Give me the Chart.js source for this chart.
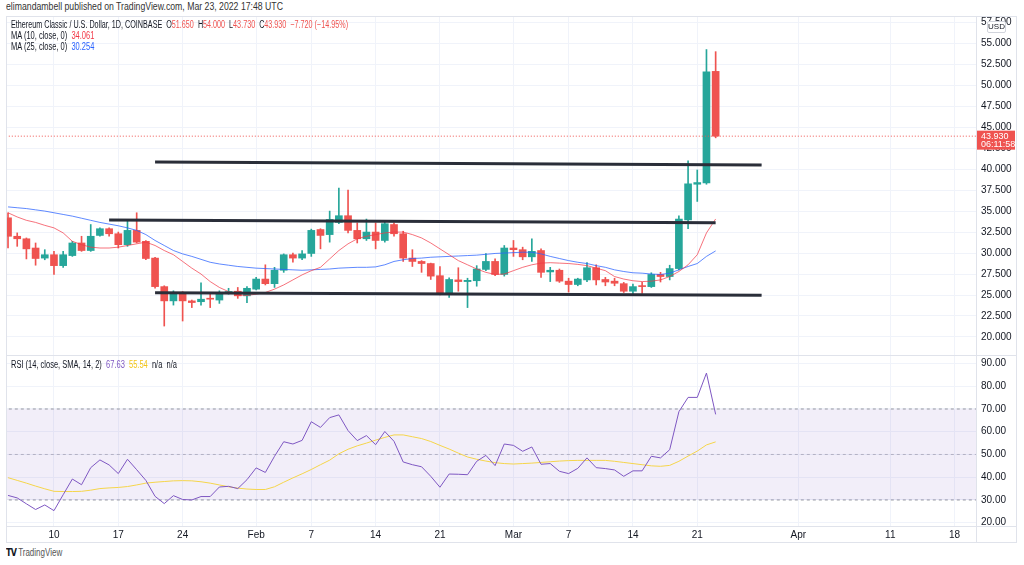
<!DOCTYPE html>
<html><head><meta charset="utf-8">
<script src="https://cdn.jsdelivr.net/npm/chart.js@4.4.1/dist/chart.umd.min.js"></script>
<style>
html,body{margin:0;padding:0;background:#fff;width:1024px;height:565px;overflow:hidden;}
.abs{position:absolute;}
.t{position:absolute;white-space:nowrap;transform-origin:0 50%;font-family:'Liberation Sans',Arial,sans-serif;color:#131722;}
.ln{position:absolute;background:#e0e3eb;}
</style></head><body>
<div class="t" style="left:6px;top:1px;font-size:10px;line-height:12px;color:#333;transform:scaleX(0.87)">elimandambell published on TradingView.com, Mar 23, 2022 17:48 UTC</div>

<div class="abs" style="left:6px;top:16px;width:1011px;height:339px;"><canvas id="priceCv"></canvas></div>
<div class="abs" style="left:6px;top:355px;width:1011px;height:188px;"><canvas id="rsiCv"></canvas></div>

<div class="ln" style="left:6px;top:16px;width:1011px;height:1px"></div>
<div class="ln" style="left:6px;top:542px;width:1011px;height:1px"></div>
<div class="ln" style="left:6px;top:16px;width:1px;height:527px"></div>
<div class="ln" style="left:1016px;top:16px;width:1px;height:527px"></div>
<div class="ln" style="left:976px;top:16px;width:1px;height:527px"></div>
<div class="ln" style="left:6px;top:355px;width:1011px;height:1px"></div>
<div class="ln" style="left:6px;top:526px;width:1011px;height:1px"></div>

<div class="t" style="left:11px;top:19px;font-size:10px;line-height:12px;transform:scaleX(0.72)">Ethereum Classic / U.S. Dollar, 1D, COINBASE&nbsp;&nbsp;O<span style="color:#ef5350">51.650</span>&nbsp;&nbsp;H<span style="color:#ef5350">54.000</span>&nbsp;&nbsp;L<span style="color:#ef5350">43.730</span>&nbsp;&nbsp;C<span style="color:#ef5350">43.930</span>&nbsp;&nbsp;<span style="color:#ef5350">−7.720 (−14.95%)</span></div>
<div class="t" style="left:11px;top:30px;font-size:10px;line-height:12px;transform:scaleX(0.75)">MA (10, close, 0)&nbsp;&nbsp;<span style="color:#f23645">34.061</span></div>
<div class="t" style="left:11px;top:41px;font-size:10px;line-height:12px;transform:scaleX(0.75)">MA (25, close, 0)&nbsp;&nbsp;<span style="color:#2962ff">30.254</span></div>
<div class="t" style="left:11px;top:359px;font-size:10px;line-height:12px;transform:scaleX(0.75)">RSI (14, close, SMA, 14, 2)&nbsp;&nbsp;<span style="color:#7e57c2">67.63</span>&nbsp;&nbsp;<span style="color:#f2c518">55.54</span>&nbsp;&nbsp;n/a&nbsp;&nbsp;n/a</div>
<div class="abs" style="left:987px;top:21px;width:17px;height:10px;border:1px solid #d1d4dc;border-radius:2px;background:#fff;font:8px 'Liberation Sans',Arial,sans-serif;line-height:10px;text-align:center;color:#131722">USD</div>
<div class="t" style="left:6px;top:547px;font-size:10px;line-height:12px;color:#131722;transform:scaleX(0.8)"><b style="font-family:'DejaVu Sans';letter-spacing:-1px">TV</b> <span style="color:#555">TradingView</span></div>

<script>
// ---- data (day index 0 = 2022-01-05) ----
const open  = [34.2,32.0,31.7,30.6,29.4,29.8,28.5,29.7,31.2,30.3, 32.1,32.9,32.3,31.0,32.7,31.4,29.4,26.0,24.3,25.3, 24.3,24.2,24.6,24.4,25.3,25.45,24.9,25.7,26.9,26.35, 27.95,29.8,29.4,29.95,32.8,32.2,33.65,34.45,32.7,31.7, 32.5,31.5,33.4,32.3,29.4,29.0,28.75,27.3,25.1,26.8, 26.6,26.7,28.05,29.0,27.45,30.6,30.4,29.55,30.3,27.75, 27.95,26.65,26.25,26.8,28.25,26.85,26.65,26.35,25.45,26.05, 26.0,27.45,27.2,28.15,33.95,38.2,38.35,51.65];
const high  = [34.8,32.4,31.8,31.2,30.4,30.2,30.2,31.4,32.0,33.4, 33.0,33.0,32.5,34.0,34.8,31.5,29.5,26.1,25.5,25.4, 24.4,26.45,25.1,25.5,25.8,25.9,26.0,27.1,28.6,28.3, 29.9,30.0,30.3,32.85,32.9,35.0,37.75,37.5,33.6,34.05, 33.6,33.7,33.6,32.6,30.4,29.1,28.8,28.4,27.05,28.25, 27.0,28.5,29.95,29.3,30.9,31.5,30.7,31.7,30.5,28.3, 28.1,27.0,27.0,28.85,28.6,27.1,27.0,26.5,26.3,26.5, 27.65,27.7,28.55,34.45,41.0,39.9,54.25,54.0];
const low   = [30.6,30.8,29.3,28.55,29.2,27.45,28.3,29.6,30.2,30.2, 32.0,32.0,30.6,30.8,31.2,29.2,25.8,21.3,23.8,21.9, 23.5,23.8,23.5,24.0,25.1,24.6,24.1,25.6,26.2,25.9, 27.7,28.9,29.2,29.6,30.5,31.3,33.5,32.4,31.2,31.5, 30.5,31.3,32.0,29.0,28.4,27.7,26.85,25.0,24.7,25.45, 23.5,26.05,27.9,27.3,27.25,29.6,29.2,29.0,27.1,26.6, 26.5,25.35,26.1,26.6,26.2,26.1,26.1,25.3,25.1,25.2, 25.9,26.55,26.8,28.0,32.9,36.15,38.2,43.73];
const close = [32.0,31.7,30.5,29.35,29.8,28.5,29.8,31.2,30.3,32.0, 32.9,32.3,31.0,32.7,31.3,29.35,26.0,24.3,25.3,24.3, 24.1,24.5,24.5,25.3,25.4,24.9,25.8,26.9,26.35,27.95, 29.8,29.4,29.9,32.7,32.1,34.0,34.45,32.7,31.7,32.5, 31.5,33.5,32.3,29.4,29.0,28.75,27.25,25.1,26.85,26.6, 26.75,28.1,29.0,27.45,30.6,30.4,29.55,30.2,27.7,27.95, 26.65,26.25,26.9,28.25,26.8,26.55,26.4,25.45,26.0,26.0, 27.45,27.2,28.15,34.05,38.25,38.4,51.6,43.93];
const ma10  = [34.8,34.3,33.9,33.65,33.3,33.0,32.4,31.4,31.0,30.7, 30.6,30.6,30.7,30.9,31.1,31.3,30.9,30.3,29.8,29.0, 28.2,27.5,26.6,25.9,25.4,25.0,24.95,25.1,25.3,25.7, 26.2,26.8,27.4,27.9,28.3,29.3,30.3,31.1,31.7,32.0, 32.2,32.4,32.5,32.5,32.2,31.8,31.2,30.5,29.8,29.1, 28.6,28.1,27.7,27.45,27.5,27.9,28.3,28.6,28.8,28.85, 28.8,28.75,28.65,28.5,28.2,27.9,27.2,26.9,26.7,26.6, 26.65,26.8,27.2,27.8,28.6,29.8,32.4,34.061];
const ma25  = [35.5,35.4,35.3,35.15,35.0,34.8,34.6,34.4,34.15,33.9, 33.65,33.45,33.25,33.0,32.7,32.2,31.5,30.9,30.3,29.9, 29.6,29.25,28.9,28.7,28.55,28.4,28.3,28.2,28.15,28.1, 28.05,28.0,27.95,28.0,28.05,28.1,28.2,28.25,28.3,28.3, 28.35,28.6,29.0,29.2,29.35,29.4,29.5,29.55,29.6,29.65, 29.7,29.75,29.85,29.95,30.0,30.05,30.1,30.1,29.9,29.6, 29.35,29.1,28.9,28.75,28.5,28.3,28.0,27.8,27.65,27.6, 27.5,27.45,27.6,28.0,28.4,28.75,29.6,30.254];
const rsi   = [32.0,30.9,28.3,25.8,27.8,25.3,32.3,39.2,36.7,44.2, 47.6,45.4,41.6,47.9,43.3,38.6,31.6,28.4,31.9,30.2, 30.0,31.5,31.5,35.7,36.0,35.0,38.9,44.1,42.1,49.2, 55.6,54.6,56.2,64.4,61.9,66.2,67.4,60.5,56.1,58.3, 54.3,60.1,55.8,46.7,45.5,44.6,40.4,35.6,41.4,41.3, 41.1,47.0,49.6,45.1,54.6,54.0,51.4,53.3,45.7,46.0, 42.6,41.6,43.9,48.5,44.2,43.8,43.2,40.4,42.8,42.8, 49.2,48.5,52.1,68.8,75.1,75.1,85.8,67.63];
const rsiMa = [39.8,38.6,37.4,36.1,34.9,33.8,33.7,33.7,33.8,34.3, 35.0,35.3,35.5,35.9,36.6,37.4,37.8,38.1,38.4,38.5, 38.4,38.0,37.4,36.6,35.8,35.2,34.8,34.6,34.6,35.8, 37.8,39.7,41.5,43.4,45.5,47.5,50.3,52.3,53.8,55.0, 56.3,57.5,58.6,58.6,57.8,57.0,55.7,54.0,52.4,50.6, 48.9,47.9,47.1,46.4,46.0,45.8,46.0,46.2,46.5,46.8, 47.1,47.3,47.4,47.4,47.4,47.4,47.0,46.5,46.0,45.5, 45.0,44.8,45.2,47.0,49.3,51.5,54.2,55.54];
// trend lines: [day0, price0, day1, price1]
const trendLines = [[16,40.85,82,40.5],[11,33.95,77,33.6],[16,25.28,82,24.98]];
const rsiBands = [70,50,30];
const xTickDays   = [5,12,19,27,33,40,47,55,61,68,75,86,96,103];
const xTickLabels = ['10','17','24','Feb','7','14','21','Mar','7','14','21','Apr','11','18'];
const priceTicks = [20,22.5,25,27.5,30,32.5,35,37.5,40,42.5,45,47.5,50,52.5,55,57.5];
const rsiTicks = [20,30,40,50,60,70,80,90];
const countdown = '06:11:58';

// ---- styling ----
const UP = '#26a69a', DOWN = '#ef5350';
const FONT = "'Liberation Sans Narrow','Liberation Sans',Arial,sans-serif";
const GRID = '#f0f3fa';
const X_MIN = -0.22, X_MAX = 105.33;
const days = close.map((_, i) => i);
const candleColor = c => close[c.dataIndex] >= open[c.dataIndex] ? UP : DOWN;

function xScale(showLabels) {
  return {
    type: 'linear', min: X_MIN, max: X_MAX, offset: false,
    afterBuildTicks: s => { s.ticks = xTickDays.map(v => ({value: v})); },
    ticks: { display: showLabels, autoSkip: false, maxRotation: 0, padding: 3, color: '#131722',
             font: {family: FONT, size: 10}, callback: (v, i) => xTickLabels[i] },
    grid: { color: GRID, drawTicks: false, offset: false },
    border: { display: false },
    afterFit: s => { s.height = showLabels ? 17 : 0; s.paddingLeft = 0; s.paddingRight = 0; }
  };
}
function yScale(min, max, ticks, dec) {
  return {
    position: 'right', min, max,
    afterBuildTicks: s => { s.ticks = ticks.map(v => ({value: v})); },
    ticks: { color: '#131722', font: {family: FONT, size: 10}, padding: 5, callback: v => v.toFixed(dec) },
    grid: { color: GRID, drawTicks: false },
    border: { display: false },
    afterFit: s => { s.width = 41; s.paddingTop = 0; s.paddingBottom = 0; }
  };
}
const lineDs = (data, color, order, extra) => Object.assign({
  type: 'line', data: data.map((v, i) => ({x: i, y: v})), borderColor: color, borderWidth: 1,
  pointRadius: 0, tension: 0, order, fill: false
}, extra || {});

const lastLabel = {
  id: 'lastLabel',
  afterDraw(chart) {
    const last = close[close.length - 1];
    const y = chart.scales.y.getPixelForValue(last);
    const ctx = chart.ctx, left = chart.chartArea.right;
    ctx.save();
    ctx.fillStyle = DOWN;
    ctx.fillRect(left, y - 5.5, 39, 19);
    ctx.fillStyle = '#fff';
    ctx.font = '9px ' + FONT;
    ctx.textBaseline = 'middle';
    ctx.fillText(last.toFixed(3), left + 5, y);
    ctx.fillText(countdown, left + 5, y + 8.5);
    ctx.restore();
  }
};

const priceDatasets = [
  { type: 'bar', data: days.map(i => ({x: i, y: [low[i], high[i]]})), backgroundColor: candleColor,
    barThickness: 1, grouped: false, order: 6, borderWidth: 0 },
  { type: 'bar', data: days.map(i => ({x: i, y: [open[i], close[i]]})), backgroundColor: candleColor,
    barThickness: 7, minBarLength: 1, grouped: false, order: 5, borderWidth: 0 },
  lineDs(ma25, 'rgba(41,98,255,0.75)', 4),
  lineDs(ma10, 'rgba(242,54,69,0.7)', 3),
  { type: 'line', data: [{x: X_MIN - 1, y: close[close.length - 1]}, {x: X_MAX + 1, y: close[close.length - 1]}],
    borderColor: DOWN, borderWidth: 1, borderDash: [1, 2], pointRadius: 0, order: 2 }
].concat(trendLines.map(t => ({
  type: 'line', data: [{x: t[0], y: t[1]}, {x: t[2], y: t[3]}], borderColor: '#2a2e39', borderWidth: 3,
  pointRadius: 0, order: 0, borderCapStyle: 'butt'
})));

new Chart(document.getElementById('priceCv'), {
  type: 'bar',
  data: { datasets: priceDatasets },
  options: {
    responsive: true, maintainAspectRatio: false, animation: false,
    layout: { padding: 0 },
    plugins: { legend: {display: false}, tooltip: {enabled: false} },
    scales: { x: xScale(false), y: yScale(17.85, 58.25, priceTicks, 3) }
  },
  plugins: [lastLabel]
});

const bandLine = (v, color, order, extra) => Object.assign({
  type: 'line', data: [{x: X_MIN - 1, y: v}, {x: X_MAX + 1, y: v}], borderColor: color, borderWidth: 1,
  borderDash: [3, 3], pointRadius: 0, order, fill: false
}, extra || {});

new Chart(document.getElementById('rsiCv'), {
  type: 'line',
  data: { datasets: [
    bandLine(rsiBands[0], '#9598a1', 5, {fill: {target: 2}, backgroundColor: 'rgba(126,87,194,0.1)'}),
    bandLine(rsiBands[1], 'rgba(149,152,161,0.6)', 5),
    bandLine(rsiBands[2], '#9598a1', 5),
    lineDs(rsiMa, '#f5d54a', 2),
    lineDs(rsi, '#7e57c2', 1)
  ]},
  options: {
    responsive: true, maintainAspectRatio: false, animation: false,
    layout: { padding: 0 },
    plugins: { legend: {display: false}, tooltip: {enabled: false}, filler: {propagate: false} },
    scales: { x: xScale(true), y: yScale(18.55, 93.74, rsiTicks, 2) }
  }
});
</script>
</body></html>
